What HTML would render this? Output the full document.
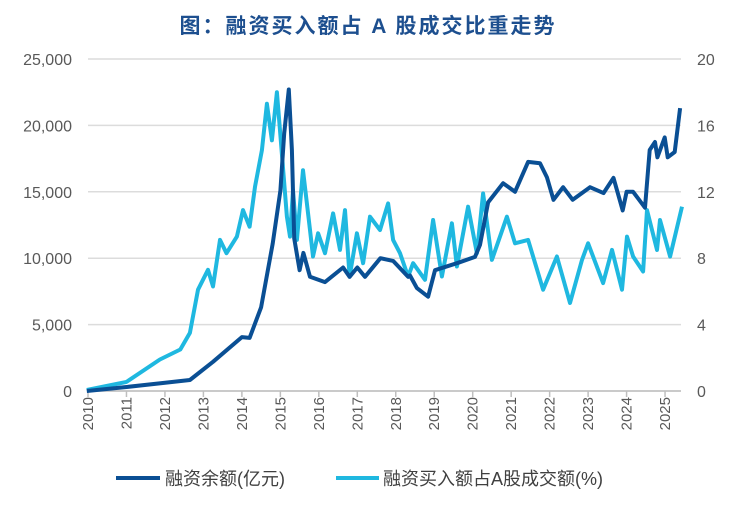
<!DOCTYPE html>
<html><head><meta charset="utf-8"><style>
body{margin:0;background:#fff;}
svg{display:block;font-family:"Liberation Sans","Noto Sans CJK SC",sans-serif;}
</style></head><body>
<svg id="chart" width="736" height="508" viewBox="0 0 736 508">
<text x="368" y="33" text-anchor="middle" font-size="21" font-weight="bold" letter-spacing="2" fill="#1d4f8f">图：融资买入额占 A 股成交比重走势</text>
<g id="grid"></g><g id="axes"></g><g id="lines"></g>
<g>
<line x1="116" y1="478" x2="160" y2="478" stroke="#0a4f94" stroke-width="4"/>
<text x="165" y="485" font-size="18" fill="#404040">融资余额(亿元)</text>
<line x1="336" y1="478" x2="379" y2="478" stroke="#1fb8e0" stroke-width="4"/>
<text x="383" y="485" font-size="18" fill="#404040">融资买入额占A股成交额(%)</text>
</g>
</svg>
<script>
const years=[2010,2011,2012,2013,2014,2015,2016,2017,2018,2019,2020,2021,2022,2023,2024,2025];
const leftTicks=[0,5000,10000,15000,20000,25000];
const leftTickLabels=["0","5,000","10,000","15,000","20,000","25,000"];
const rightTicks=[0,4,8,12,16,20];
const balanceDates=[2009.97,2011.0,2012.65,2013.25,2014.0,2014.2,2014.5,2014.8,2015.0,2015.1,2015.22,2015.3,2015.36,2015.5,2015.6,2015.77,2016.16,2016.63,2016.8,2017.0,2017.2,2017.6,2017.93,2018.32,2018.37,2018.55,2018.84,2019.02,2019.62,2020.06,2020.19,2020.4,2020.79,2021.1,2021.44,2021.75,2021.93,2022.1,2022.35,2022.6,2023.05,2023.4,2023.66,2023.9,2024.0,2024.17,2024.48,2024.6,2024.74,2024.8,2024.99,2025.07,2025.25,2025.39];
const balanceValues=[0,300,830,2200,4060,4000,6300,11100,15100,19400,22700,18150,11500,9100,10400,8600,8200,9300,8600,9300,8600,10000,9800,8600,8700,7750,7100,9100,9650,10100,11000,14200,15650,15000,17250,17150,16100,14400,15350,14400,15350,14900,16050,13600,15000,15000,13800,18150,18750,17600,19100,17600,18000,21300];
const ratioDates=[2009.97,2011.0,2011.87,2012.4,2012.65,2012.86,2013.12,2013.25,2013.43,2013.6,2013.87,2014.03,2014.2,2014.34,2014.52,2014.65,2014.78,2014.91,2014.99,2015.17,2015.25,2015.33,2015.43,2015.59,2015.77,2015.85,2015.98,2016.16,2016.37,2016.55,2016.68,2016.8,2016.99,2017.15,2017.33,2017.59,2017.8,2017.93,2018.11,2018.32,2018.45,2018.76,2018.97,2019.2,2019.46,2019.59,2019.88,2020.11,2020.27,2020.5,2020.89,2021.1,2021.44,2021.83,2022.19,2022.53,2022.84,2023.0,2023.39,2023.62,2023.88,2024.01,2024.17,2024.43,2024.53,2024.79,2024.87,2025.13,2025.44];
const ratioValues=[0.06,0.55,1.9,2.5,3.5,6.1,7.3,6.3,9.1,8.3,9.3,10.9,9.9,12.3,14.5,17.3,15.1,18.0,15.7,10.5,9.3,12.1,9.1,13.3,9.7,8.1,9.5,8.3,10.7,8.5,10.9,6.9,9.5,7.7,10.5,9.7,11.3,9.1,8.3,6.9,7.7,6.7,10.3,6.9,10.1,7.5,11.1,8.3,11.9,7.9,10.5,8.9,9.1,6.1,8.1,5.3,7.9,8.9,6.5,8.5,6.1,9.3,8.1,7.2,10.9,8.5,10.3,8.1,11.1];

const X0=88,X1=681,Y0=391,Y1=59;
const xs=y=>X0+(y-2010)*38.47;
const yl=v=>Y0-(v/25000)*(Y0-Y1);
const yr=v=>Y0-(v/20)*(Y0-Y1);
const NS="http://www.w3.org/2000/svg";
function mk(tag,attrs,parent,txt){const e=document.createElementNS(NS,tag);for(const k in attrs)e.setAttribute(k,attrs[k]);if(txt!==undefined)e.textContent=txt;parent.appendChild(e);return e;}
const grid=document.getElementById('grid'),axes=document.getElementById('axes'),lines=document.getElementById('lines');
leftTicks.forEach((t,i)=>{
 const g=mk('line',{x1:X0,x2:X1,y1:yl(t),y2:yl(t),stroke:'#dcdcdc','stroke-width':1.5},grid);
 
 
 const l=mk('text',{x:72,y:yl(t)+6,'text-anchor':'end','font-size':16,fill:'#595959'},axes,leftTickLabels[i]);
 
 
});
rightTicks.forEach(t=>{
 const l=mk('text',{x:697,y:yr(t)+6,'text-anchor':'start','font-size':16,fill:'#595959'},axes,String(t));
 
 
});
const ax=mk('line',{x1:X0,x2:X1,y1:Y0,y2:Y0,stroke:'#bfbfbf','stroke-width':1.5},axes);


years.forEach(yv=>{
 const x=xs(yv);
 const tk=mk('line',{x1:x,x2:x,y1:Y0,y2:Y0+6,stroke:'#bfbfbf','stroke-width':1.5},axes);
 
 
 const l=mk('text',{x:0,y:0,'text-anchor':'end','font-size':15,fill:'#595959',transform:`translate(${x+5},${Y0+6}) rotate(-90)`},axes,String(yv));
 
 
});
function path(dates,vals,fy){return dates.map((d,i)=>(i?'L':'M')+xs(d).toFixed(1)+','+fy(vals[i]).toFixed(1)).join('');}
const pr=mk('path',{d:path(ratioDates,ratioValues,yr),fill:'none',stroke:'#1fb8e0','stroke-width':4,'stroke-linejoin':'round'},lines);


const pb=mk('path',{d:path(balanceDates,balanceValues,yl),fill:'none',stroke:'#0a4f94','stroke-width':4,'stroke-linejoin':'round'},lines);


</script>
</body></html>
